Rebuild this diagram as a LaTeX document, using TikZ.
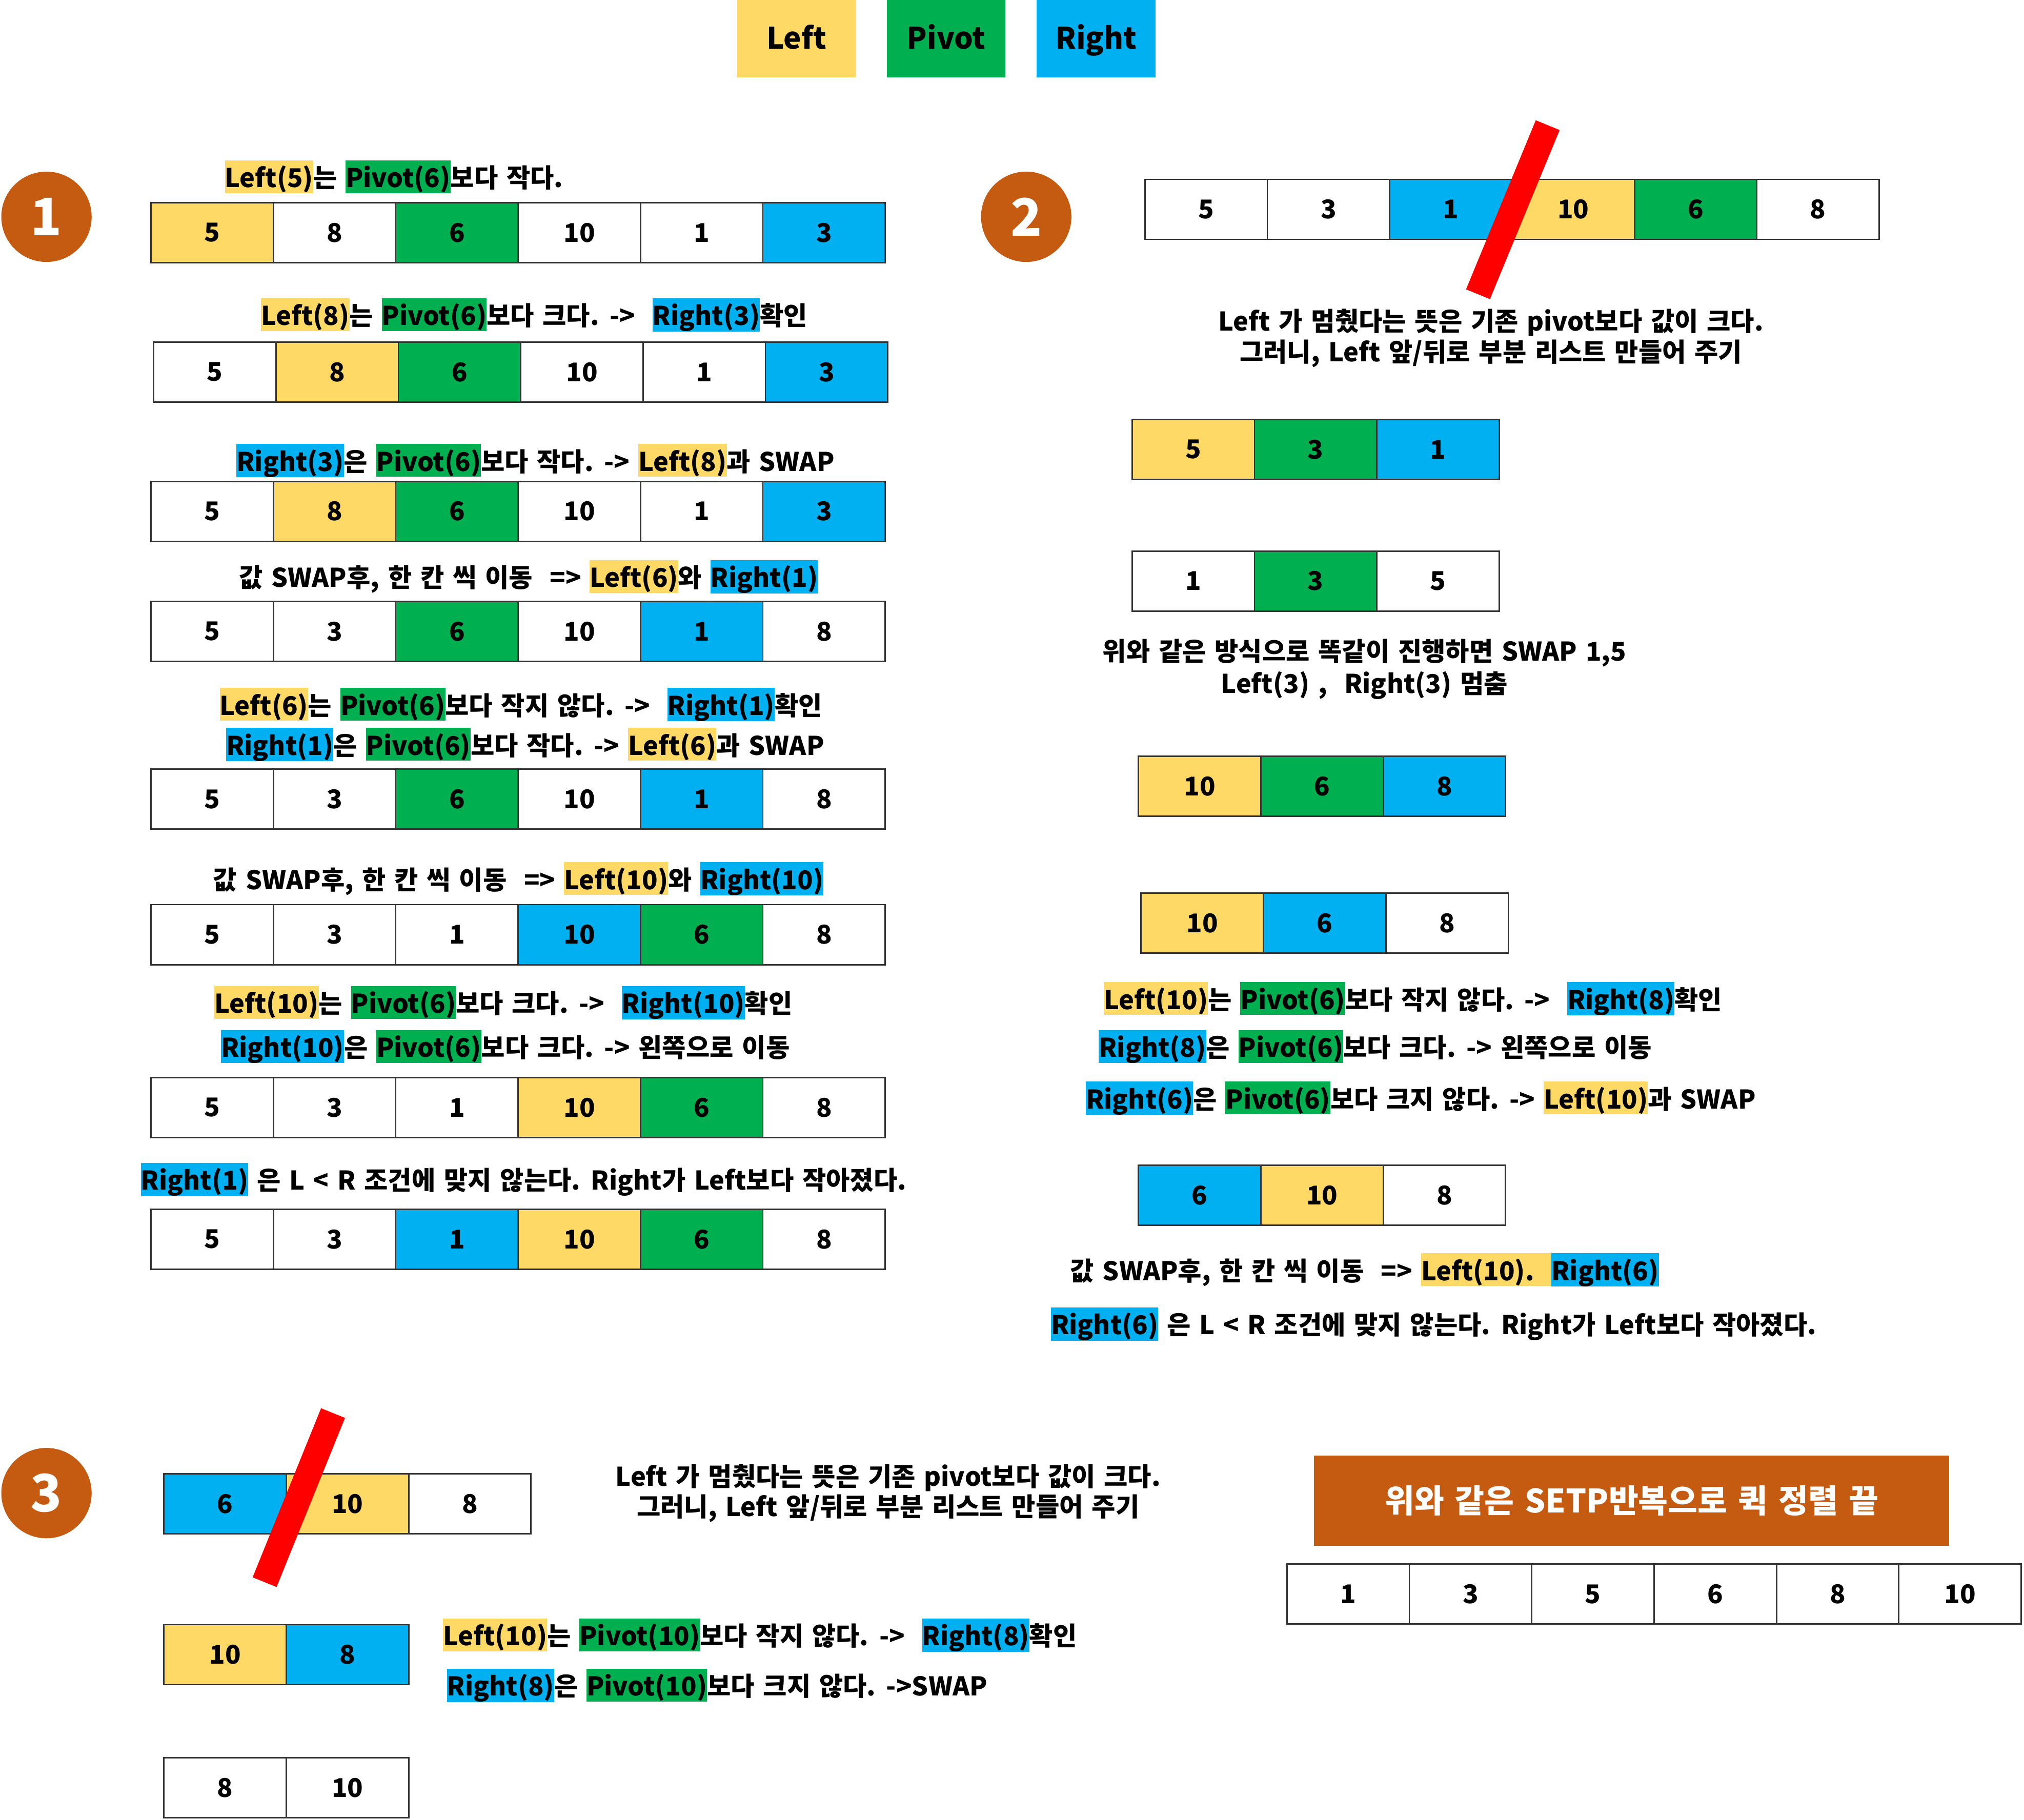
\documentclass[tikz,border=0pt]{standalone}
\usepackage{fontspec}
\setmainfont{Noto Sans CJK KR}[WordSpace=1.45]
\definecolor{cy}{HTML}{FFD966}
\definecolor{cg}{HTML}{00B050}
\definecolor{cb}{HTML}{00B0F0}
\definecolor{corange}{HTML}{C55A11}
\newcommand\hlstrut{\rule[-0.22em]{0pt}{1.27em}}
\newcommand\hl[2]{{\setlength{\fboxsep}{0pt}\colorbox{#1}{\hlstrut #2}}}
\newcommand\cw{94.8}
\newcommand\arr[4]{%
  \foreach \v/\c [count=\i] in {#4} {
    \node[cell, fill=\c] (#1-\i) at ({#2+(\i-0.5)*\cw}, {#3+23.25}) {\v};
  }}
\begin{document}
\begin{tikzpicture}[x=1pt,y=-1pt,
  cell/.style={rectangle, draw=black!80, line width=1.1pt, minimum width=\cw pt, minimum height=46.5pt, inner sep=0pt, font=\fontsize{20}{24}\selectfont\bfseries},
  txt/.style={inner sep=0pt, font=\fontsize{20}{24}\selectfont\bfseries},
  legend/.style={rectangle, minimum width=92pt, minimum height=60pt, inner sep=0pt, text height=16pt, text depth=0pt, font=\fontsize{23}{26}\selectfont\bfseries},
  badge/.style={circle, fill=corange, minimum size=70pt, inner sep=0pt, text=white, font=\fontsize{40}{40}\selectfont\bfseries},
  slash/.style={red, line width=20pt}]
\useasboundingbox (0,0) rectangle (1568,1410.3);

% legend
\node[legend, fill=cy] (lgL) at (617,30) {Left};
\node[legend, fill=cg] (lgP) at (733,30) {Pivot};
\node[legend, fill=cb] (lgR) at (849,30) {Right};

% badges
\node[badge] (b1) at (36,168) {1};
\node[badge] (b2) at (795,168) {2};
\node[badge] (b3) at (36,1157) {3};

% ---------- section 1 ----------
\node[txt, anchor=west] (t1) at (174,137) {\hlstrut\hl{cy}{Left(5)}는 \hl{cg}{Pivot(6)}보다 작다.};
\arr{a1}{117}{157}{5/cy,8/white,6/cg,10/white,1/white,3/cb}
\node[txt, anchor=west] (t2) at (202,244) {\hlstrut\hl{cy}{Left(8)}는 \hl{cg}{Pivot(6)}보다 크다. ->\ \ \hl{cb}{Right(3)}확인};
\arr{a2}{119}{265}{5/white,8/cy,6/cg,10/white,1/white,3/cb}
\node[txt, anchor=west] (t3) at (183,357) {\hlstrut\hl{cb}{Right(3)}은 \hl{cg}{Pivot(6)}보다 작다. -> \hl{cy}{Left(8)}과 SWAP};
\arr{a3}{117}{373}{5/white,8/cy,6/cg,10/white,1/white,3/cb}
\node[txt, anchor=west] (t4) at (185,447) {\hlstrut 값 SWAP후, 한 칸 씩 이동\ \ => \hl{cy}{Left(6)}와 \hl{cb}{Right(1)}};
\arr{a4}{117}{466}{5/white,3/white,6/cg,10/white,1/cb,8/white}
\node[txt, anchor=west] (t5) at (170,546) {\hlstrut\hl{cy}{Left(6)}는 \hl{cg}{Pivot(6)}보다 작지 않다. ->\ \ \hl{cb}{Right(1)}확인};
\node[txt, anchor=west] (t6) at (175,577) {\hlstrut\hl{cb}{Right(1)}은 \hl{cg}{Pivot(6)}보다 작다. -> \hl{cy}{Left(6)}과 SWAP};
\arr{a5}{117}{596}{5/white,3/white,6/cg,10/white,1/cb,8/white}
\node[txt, anchor=west] (t7) at (165,681) {\hlstrut 값 SWAP후, 한 칸 씩 이동\ \ => \hl{cy}{Left(10)}와 \hl{cb}{Right(10)}};
\arr{a6}{117}{701}{5/white,3/white,1/white,10/cb,6/cg,8/white}
\node[txt, anchor=west] (t8) at (166,777) {\hlstrut\hl{cy}{Left(10)}는 \hl{cg}{Pivot(6)}보다 크다. ->\ \ \hl{cb}{Right(10)}확인};
\node[txt, anchor=west] (t9) at (171,811) {\hlstrut\hl{cb}{Right(10)}은 \hl{cg}{Pivot(6)}보다 크다. -> 왼쪽으로 이동};
\arr{a7}{117}{835}{5/white,3/white,1/white,10/cy,6/cg,8/white}
\node[txt, anchor=west] (t10) at (109,914) {\hlstrut\hl{cb}{Right(1)} 은 L < R 조건에 맞지 않는다. Right가 Left보다 작아졌다.};
\arr{a8}{117}{937}{5/white,3/white,1/cb,10/cy,6/cg,8/white}

% ---------- section 2 ----------
\arr{b1}{887}{139}{5/white,3/white,1/cb,10/cy,6/cg,8/white}
\coordinate (s1a) at (1199,97);
\coordinate (s1b) at (1145,228);
\draw[slash] (s1a) -- (s1b);
\node[txt] (u1) at (1155,250) {Left 가 멈췄다는 뜻은 기존 pivot보다 값이 크다.};
\node[txt] (u2) at (1155,274) {그러니, Left 앞/뒤로 부분 리스트 만들어 주기};
\arr{b2}{877}{325}{5/cy,3/cg,1/cb}
\arr{b3}{877}{427}{1/white,3/cg,5/white}
\node[txt] (u3) at (1057,506) {위와 같은 방식으로 똑같이 진행하면 SWAP 1,5};
\node[txt] (u4) at (1057,531) {Left(3) ,\ \ Right(3) 멈춤};
\arr{b4}{882}{586}{10/cy,6/cg,8/cb}
\arr{b5}{884}{692}{10/cy,6/cb,8/white}
\node[txt, anchor=west] (u5) at (855,774) {\hlstrut\hl{cy}{Left(10)}는 \hl{cg}{Pivot(6)}보다 작지 않다. ->\ \ \hl{cb}{Right(8)}확인};
\node[txt, anchor=west] (u6) at (851,811) {\hlstrut\hl{cb}{Right(8)}은 \hl{cg}{Pivot(6)}보다 크다. -> 왼쪽으로 이동};
\node[txt, anchor=west] (u7) at (841,851) {\hlstrut\hl{cb}{Right(6)}은 \hl{cg}{Pivot(6)}보다 크지 않다. -> \hl{cy}{Left(10)}과 SWAP};
\arr{b6}{882}{903}{6/cb,10/cy,8/white}
\node[txt, anchor=west] (u8) at (829,984) {\hlstrut 값 SWAP후, 한 칸 씩 이동\ \ => \hl{cy}{Left(10).\ \ }\hl{cb}{Right(6)}};
\node[txt, anchor=west] (u9) at (814,1026) {\hlstrut\hl{cb}{Right(6)} 은 L < R 조건에 맞지 않는다. Right가 Left보다 작아졌다.};

% ---------- section 3 ----------
\arr{c1}{127}{1142}{6/cb,10/cy,8/white}
\coordinate (s2a) at (258,1095);
\coordinate (s2b) at (205,1226);
\draw[slash] (s2a) -- (s2b);
\node[txt] (v1) at (688,1145) {Left 가 멈췄다는 뜻은 기존 pivot보다 값이 크다.};
\node[txt] (v2) at (688,1169) {그러니, Left 앞/뒤로 부분 리스트 만들어 주기};
\arr{c2}{127}{1259}{10/cy,8/cb}
\node[txt, anchor=west] (v3) at (343,1267) {\hlstrut\hl{cy}{Left(10)}는 \hl{cg}{Pivot(10)}보다 작지 않다. ->\ \ \hl{cb}{Right(8)}확인};
\node[txt, anchor=west] (v4) at (346,1306) {\hlstrut\hl{cb}{Right(8)}은 \hl{cg}{Pivot(10)}보다 크지 않다. ->SWAP};
\arr{c3}{127}{1362}{8/white,10/white}

% final
\node[rectangle, fill=corange, minimum width=492pt, minimum height=70pt, inner sep=0pt, text=white, font=\fontsize{25}{28}\selectfont\bfseries] (banner) at (1264,1163) {위와 같은 SETP반복으로 퀵 정렬 끝};
\arr{d1}{997}{1212}{1/white,3/white,5/white,6/white,8/white,10/white}
\end{tikzpicture}
\end{document}
